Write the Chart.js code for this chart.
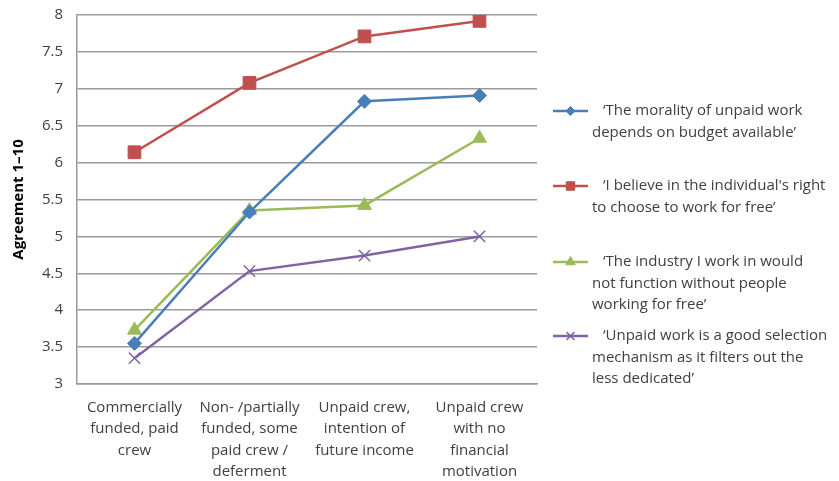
<!DOCTYPE html>
<html>
<head>
<meta charset="utf-8">
<script src="https://cdn.jsdelivr.net/npm/chart.js@4/dist/chart.umd.min.js"></script>
<style>
  html, body { margin: 0; padding: 0; background: #ffffff; }
  #wrap { width: 839px; height: 481px; position: relative; }
</style>
</head>
<body>
<div id="wrap"><canvas id="c" width="839" height="481"></canvas></div>
<script>
// ---- data ----
const categories = [
  ["Commercially", "funded, paid", "crew"],
  ["Non- /partially", "funded, some", "paid crew /", "deferment"],
  ["Unpaid crew,", "intention of", "future income"],
  ["Unpaid crew", "with no", "financial", "motivation"]
];
const moralityValues = [3.55, 5.33, 6.83, 6.91];
const rightToChooseValues = [6.14, 7.08, 7.71, 7.92];
const industryValues = [3.73, 5.35, 5.42, 6.33];
const selectionValues = [3.35, 4.53, 4.74, 5.00];

const seriesLabels = [
  ["\u2018The morality of unpaid work", "depends on budget available\u2019"],
  ["\u2018I believe in the individual's right", "to choose to work for free\u2019"],
  ["\u2018The industry I work in would", "not function without people", "working for free\u2019"],
  ["\u2018Unpaid work is a good selection", "mechanism as it filters out the", "less dedicated\u2019"]
];
const yTitle = "Agreement 1\u201310";
const yMin = 3, yMax = 8, yStep = 0.5;

// ---- styles ----
const FONT = "'Open Sans', sans-serif";
const TEXT = "#404040";
const colors = ["#4A7EBB", "#C0504D", "#9BBB59", "#8064A2"];
const styles = ["rectRot", "rect", "triangle", "crossRot"];
const radii = [7, 9, 8, 8];
const legendRadii = [4.5, 6, 5.5, 5.5];
const valuesList = [moralityValues, rightToChooseValues, industryValues, selectionValues];

const datasets = valuesList.map((vals, i) => ({
  label: seriesLabels[i].join(" "),
  data: vals,
  borderColor: colors[i],
  backgroundColor: colors[i],
  borderWidth: 2.5,
  pointStyle: styles[i],
  pointRadius: radii[i],
  pointHoverRadius: radii[i],
  pointBorderWidth: i === 3 ? 1.5 : 1,
  pointBorderColor: colors[i],
  pointBackgroundColor: colors[i],
  tension: 0
}));

const legendPlugin = {
  id: 'sideLegend',
  afterDraw(chart) {
    const ctx = chart.ctx;
    const ys = [111, 186, 262, 336];
    const lh = 21.5;
    ctx.save();
    ctx.font = "15px " + FONT;
    ctx.textBaseline = "middle";
    ctx.textAlign = "left";
    seriesLabels.forEach((lines, i) => {
      const y = ys[i];
      ctx.strokeStyle = colors[i];
      ctx.lineWidth = 2.5;
      ctx.beginPath();
      ctx.moveTo(553, y);
      ctx.lineTo(588, y);
      ctx.stroke();
      ctx.fillStyle = colors[i];
      ctx.lineWidth = i === 3 ? 1.5 : 1;
      Chart.helpers.drawPoint(ctx, {pointStyle: styles[i], radius: legendRadii[i], rotation: 0, borderWidth: ctx.lineWidth}, 570.5, y);
      ctx.fillStyle = TEXT;
      lines.forEach((t, k) => {
        ctx.fillText(t, k === 0 ? 603 : 592, y + k * lh);
      });
    });
    ctx.restore();
  }
};

new Chart(document.getElementById('c'), {
  type: 'line',
  data: { labels: categories, datasets },
  plugins: [legendPlugin],
  options: {
    responsive: false,
    animation: false,
    devicePixelRatio: 1,
    layout: { autoPadding: false, padding: { top: 15, right: 302, left: 0, bottom: 0 } },
    plugins: { legend: { display: false }, tooltip: { enabled: false } },
    scales: {
      x: {
        type: 'category',
        offset: true,
        grid: { display: false, drawTicks: false },
        border: { display: true, color: '#9a9a9a', width: 1.5 },
        ticks: {
          color: TEXT,
          font: { family: FONT, size: 15, lineHeight: 1.43 },
          padding: 13,
          maxRotation: 0,
          autoSkip: false
        },
        afterFit(s) { s.height = 97; s.paddingTop = 0; s.paddingBottom = 0; }
      },
      y: {
        min: yMin, max: yMax,
        grid: { color: '#9a9a9a', lineWidth: 1.5, drawTicks: false },
        border: { display: true, color: '#9a9a9a', width: 1.5 },
        ticks: {
          stepSize: yStep,
          color: TEXT,
          font: { family: FONT, size: 15 },
          padding: 14,
          callback(v) { return String(Number(v)); }
        },
        title: {
          display: true,
          text: yTitle,
          color: '#000000',
          font: { family: FONT, size: 15, weight: 'bold' },
          padding: { top: 10, bottom: 0 }
        },
        afterFit(s) { s.width = 77; s.paddingTop = 0; s.paddingBottom = 0; }
      }
    }
  }
});
</script>
</body>
</html>
